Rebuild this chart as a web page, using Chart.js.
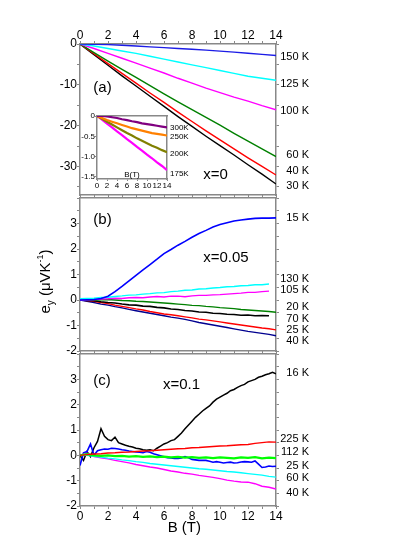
<!DOCTYPE html>
<html>
<head>
<meta charset="utf-8">
<script src="https://cdn.jsdelivr.net/npm/chart.js@4.4.0/dist/chart.umd.min.js"></script>
<style>
  body { margin: 0; background: #fff; }
  #wrap { position: relative; width: 415px; height: 537px; }
  #wrap canvas { position: absolute; left: 0; top: 0; }
</style>
</head>
<body>
<div id="wrap">
  <canvas id="chartA" width="415" height="537"></canvas>
  <canvas id="chartInset" width="415" height="537"></canvas>
  <canvas id="chartB" width="415" height="537"></canvas>
  <canvas id="chartC" width="415" height="537"></canvas>
</div>
<script>
const FONT = "'Liberation Sans', Arial, Helvetica, sans-serif";
const GRAY = "#888888";

// field grids (T)
const bStep1 = [0, 1, 2, 3, 4, 5, 6, 7, 8, 9, 10, 11, 12, 13, 14];
const bHalf = [0, 0.5, 1, 1.5, 2, 2.5, 3, 3.5, 4, 4.5, 5, 5.5, 6, 6.5, 7, 7.5, 8, 8.5, 9, 9.5, 10, 10.5, 11, 11.5, 12, 12.5, 13, 13.5, 14];
const bQuarter = [0, 0.25, 0.5, 0.75, 1, 1.25, 1.5, 1.75, 2, 2.25, 2.5, 2.75, 3, 3.25, 3.5, 3.75, 4, 4.25, 4.5, 4.75,
  5, 5.25, 5.5, 5.75, 6, 6.25, 6.5, 6.75, 7, 7.25, 7.5, 7.75, 8, 8.25, 8.5, 8.75, 9, 9.25, 9.5, 9.75,
  10, 10.25, 10.5, 10.75, 11, 11.25, 11.5, 11.75, 12, 12.25, 12.5, 12.75, 13, 13.25, 13.5, 13.75, 14];

// axis ticks
const xTicks = [0, 1, 2, 3, 4, 5, 6, 7, 8, 9, 10, 11, 12, 13, 14];
const xTickLabels = [0, 2, 4, 6, 8, 10, 12, 14];
const yTicksA = [-35, -30, -25, -20, -15, -10, -5, 0];
const yTickLabelsA = [-30, -20, -10, 0];
const yTicksBC = [-2, -1.5, -1, -0.5, 0, 0.5, 1, 1.5, 2, 2.5, 3, 3.5, 4];
const yTickLabelsBC = [-2, -1, 0, 1, 2, 3];
const xTicksInset = [0, 2, 4, 6, 8, 10, 12, 14];
const yTicksInset = [-1.5, -1, -0.5, 0];
const yTickTextInset = ["-1.5", "-1.0", "-0.5", "0"];

// panel (a) x = 0
const aNames = ["150 K", "125 K", "100 K", "60 K", "40 K", "30 K"];
const aColors = ["#1c1ce6", "#00ffff", "#ff00ff", "#008000", "#ff0000", "#000000"];
const a150 = [0, -0.05, -0.15, -0.3, -0.5, -0.7, -0.9, -1.1, -1.3, -1.5, -1.75, -2.0, -2.25, -2.55, -2.8];
const a125 = [0, -0.5, -1.1, -1.7, -2.3, -3.0, -3.7, -4.4, -5.1, -5.8, -6.5, -7.2, -7.9, -8.4, -8.9];
const a100 = [0, -1.1, -2.3, -3.5, -4.7, -5.9, -7.1, -8.4, -9.6, -10.8, -11.9, -13.0, -14.0, -15.1, -16.1];
const a60 = [0, -2.1, -4.2, -6.2, -8.2, -10.2, -12.2, -14.2, -16.1, -18.0, -19.9, -21.9, -23.8, -25.7, -27.6];
const a40 = [0, -2.4, -4.8, -7.2, -9.6, -12.0, -14.3, -16.7, -19.0, -21.3, -23.5, -25.7, -27.9, -30.0, -32.1];
const a30 = [0, -2.6, -5.2, -7.8, -10.3, -12.8, -15.3, -17.8, -20.2, -22.6, -24.9, -27.2, -29.6, -31.9, -34.3];

// inset of (a)
const iNames = ["300K", "250K", "200K", "175K"];
const iColors = ["#800080", "#ff8000", "#808000", "#ff00ff"];
const i300 = [0, 0, -0.01, -0.03, -0.05, -0.08, -0.1, -0.13, -0.15, -0.18, -0.2, -0.22, -0.24, -0.26, -0.28];
const i250 = [0, -0.05, -0.1, -0.14, -0.18, -0.22, -0.26, -0.3, -0.33, -0.36, -0.39, -0.42, -0.44, -0.46, -0.48];
const i200 = [0, -0.07, -0.14, -0.21, -0.28, -0.35, -0.42, -0.48, -0.55, -0.61, -0.67, -0.73, -0.78, -0.84, -0.89];
const i175 = [0, -0.09, -0.19, -0.28, -0.38, -0.47, -0.57, -0.66, -0.76, -0.85, -0.95, -1.04, -1.14, -1.23, -1.33];

// panel (b) x = 0.05
const bNames = ["15 K", "130 K", "105 K", "20 K", "70 K", "25 K", "40 K"];
const bColors = ["#0000ff", "#00ffff", "#ff00ff", "#008000", "#000000", "#ff0000", "#000090"];
const b15 = [0, 0.01, 0.02, 0.06, 0.15, 0.33, 0.53, 0.75, 0.97, 1.18, 1.39, 1.6, 1.82, 1.98, 2.15, 2.3, 2.46, 2.61, 2.73, 2.86, 2.96, 3.03, 3.1, 3.14, 3.17, 3.2, 3.21, 3.21, 3.22];
const b130 = [0.05, 0.06, 0.07, 0.1, 0.11, 0.14, 0.16, 0.19, 0.2, 0.23, 0.25, 0.28, 0.29, 0.33, 0.35, 0.38, 0.39, 0.43, 0.44, 0.47, 0.49, 0.52, 0.53, 0.56, 0.57, 0.6, 0.6, 0.63];
const b105 = [0, 0.01, 0.02, 0.04, 0.05, 0.07, 0.06, 0.09, 0.1, 0.09, 0.12, 0.14, 0.12, 0.15, 0.15, 0.13, 0.16, 0.18, 0.18, 0.2, 0.21, 0.23, 0.25, 0.27, 0.3, 0.3, 0.33, 0.35];
const b20 = [0, 0.01, 0, 0.01, 0.02, 0, -0.02, -0.03, -0.05, -0.06, -0.08, -0.1, -0.12, -0.14, -0.16, -0.18, -0.21, -0.22, -0.25, -0.27, -0.3, -0.32, -0.34, -0.37, -0.39, -0.41, -0.43, -0.45, -0.48];
const b70 = [0, -0.02, -0.03, -0.07, -0.1, -0.12, -0.16, -0.19, -0.2, -0.24, -0.25, -0.29, -0.31, -0.35, -0.37, -0.41, -0.43, -0.47, -0.48, -0.52, -0.53, -0.56, -0.57, -0.6, -0.59, -0.62, -0.61, -0.62];
const b25 = [0, -0.02, -0.05, -0.1, -0.14, -0.2, -0.25, -0.3, -0.35, -0.39, -0.45, -0.5, -0.55, -0.58, -0.62, -0.66, -0.7, -0.75, -0.78, -0.82, -0.86, -0.9, -0.94, -0.98, -1.02, -1.06, -1.1, -1.13, -1.17];
const b40 = [0, -0.05, -0.1, -0.16, -0.2, -0.26, -0.31, -0.37, -0.42, -0.47, -0.52, -0.57, -0.62, -0.67, -0.71, -0.76, -0.82, -0.88, -0.93, -0.98, -1.03, -1.08, -1.13, -1.18, -1.23, -1.27, -1.31, -1.35, -1.4];

// panel (c) x = 0.1
const cNames = ["16 K", "225 K", "112 K", "25 K", "60 K", "40 K"];
const cColors = ["#000000", "#ff0000", "#00ff00", "#0000ff", "#00ffff", "#ff00ff"];
const c16 = [0, -0.2, 0.15, -0.05, 0.3, 0.55, 1.05, 0.75, 0.62, 0.58,
  0.72, 0.5, 0.45, 0.4, 0.36, 0.33, 0.28, 0.26, 0.22, 0.2,
  0.22, 0.18, 0.28, 0.36, 0.45, 0.5, 0.58, 0.62, 0.75, 0.88,
  1.05, 1.2, 1.35, 1.5, 1.62, 1.75, 1.85, 1.95, 2.1, 2.22,
  2.3, 2.38, 2.45, 2.55, 2.6, 2.68, 2.75, 2.8, 2.9, 2.95,
  3.0, 3.08, 3.12, 3.18, 3.22, 3.28, 3.22];
const c225 = [0, 0.03, 0.05, 0.06, 0.09, 0.1, 0.12, 0.13, 0.15, 0.17, 0.18, 0.2, 0.22, 0.24, 0.26, 0.27, 0.3, 0.31, 0.33, 0.35, 0.37, 0.38, 0.4, 0.42, 0.43, 0.47, 0.5, 0.53, 0.52];
const c112 = [0, 0.05, 0, -0.02, 0, -0.03, -0.02, -0.05, -0.03, -0.06, -0.04, -0.07, -0.05, -0.08, -0.06, -0.09, -0.07, -0.1, -0.08, -0.11, -0.08, -0.1, -0.12, -0.08, -0.1, -0.07, -0.12, -0.09, -0.11];
const c25 = [-0.4, 0.1, 0.15, 0.45, 0, 0.18, 0.22, 0.25, 0.24, 0.28,
  0.27, 0.25, 0.22, 0.2, 0.17, 0.15, 0.13, 0.12, 0.1, 0.15,
  0.12, 0.06, 0.02, -0.02, -0.06, -0.09, -0.1, -0.12, -0.12, -0.1,
  -0.05, -0.1, -0.16, -0.18, -0.2, -0.2, -0.2, -0.23, -0.27, -0.25,
  -0.27, -0.3, -0.28, -0.27, -0.3, -0.29, -0.26, -0.25, -0.26, -0.27,
  -0.22, -0.35, -0.48, -0.46, -0.42, -0.44, -0.43];
const c60 = [0, 0, -0.04, -0.07, -0.11, -0.14, -0.18, -0.21, -0.25, -0.28, -0.32, -0.35, -0.38, -0.41, -0.44, -0.47, -0.5, -0.53, -0.55, -0.58, -0.61, -0.64, -0.66, -0.69, -0.72, -0.75, -0.78, -0.83, -0.86];
const c40 = [0, 0.08, -0.05, -0.1, -0.14, -0.2, -0.25, -0.3, -0.36, -0.41, -0.46, -0.5, -0.56, -0.62, -0.66, -0.71, -0.74, -0.79, -0.83, -0.87, -0.92, -0.98, -1.02, -1.05, -1.06, -1.12, -1.22, -1.26, -1.33];

function pts(xs, ys) {
  return ys.map((y, i) => ({ x: xs[i], y: y }));
}

function line(name, color, xs, ys, w) {
  return { label: name, data: pts(xs, ys), borderColor: color, borderWidth: w || 1.4,
    pointRadius: 0, fill: false, tension: 0 };
}

// one axis of a framed panel; size is fixed so plot boxes line up across canvases
function axis(pos, cfg) {
  const horiz = pos === "top" || pos === "bottom";
  const a = {
    type: "linear", position: pos, min: cfg.min, max: cfg.max,
    afterBuildTicks: s => { s.ticks = cfg.ticks.map(v => ({ value: v })); },
    afterFit: s => { if (horiz) s.height = cfg.size; else s.width = cfg.size; },
    ticks: {
      display: !!cfg.labels, autoSkip: false, maxRotation: 0, padding: cfg.pad || 0, color: "#000",
      font: { family: FONT, size: cfg.font || 12 },
      callback: (v) => {
        if (!cfg.labels) return "";
        const k = cfg.labels.indexOf(v);
        if (k < 0) return "";
        return cfg.text ? cfg.text[k] : String(v);
      }
    },
    grid: { drawOnChartArea: false, drawTicks: cfg.tick !== 0, tickLength: cfg.tick === undefined ? 3 : cfg.tick,
      color: GRAY, lineWidth: 1 },
    border: { color: GRAY, width: 1.5 }
  };
  return a;
}

function layoutFor(area, wL, wR, hT, hB) {
  return { padding: { left: area.l - wL, right: 415 - area.r - wR, top: area.t - hT, bottom: 537 - area.b - hB } };
}

// text drawn in data coordinates (or offset from the right edge of the plot)
const textLayer = {
  id: "textLayer",
  afterDatasetsDraw(chart, args, opts) {
    const ctx = chart.ctx, xs = chart.scales.x, ys = chart.scales.y, ca = chart.chartArea;
    ctx.save();
    ctx.fillStyle = "#000";
    ctx.textBaseline = "middle";
    (opts.items || []).forEach(it => {
      ctx.font = it.size + "px " + FONT;
      ctx.textAlign = it.align || "left";
      const px = it.dx !== undefined ? ca.right + it.dx : xs.getPixelForValue(it.x);
      ctx.fillText(it.text, px, ys.getPixelForValue(it.y));
    });
    ctx.restore();
  }
};

// rotated y title with subscript / superscript
const yTitle = {
  id: "yTitle",
  afterDraw(chart) {
    const ctx = chart.ctx, ca = chart.chartArea;
    const parts = [
      { t: "e", s: 15, dy: 0 }, { t: "y", s: 10, dy: 4 }, { t: " (\u03bcVK", s: 15, dy: 0 },
      { t: "-1", s: 9, dy: -7 }, { t: ")", s: 15, dy: 0 }
    ];
    ctx.save();
    ctx.translate(ca.left - 35, (ca.top + ca.bottom) / 2 + 7);
    ctx.rotate(-Math.PI / 2);
    ctx.fillStyle = "#000";
    ctx.textBaseline = "alphabetic";
    let total = 0;
    parts.forEach(p => { ctx.font = p.s + "px " + FONT; p.w = ctx.measureText(p.t).width; total += p.w; });
    let x = -total / 2;
    parts.forEach(p => { ctx.font = p.s + "px " + FONT; ctx.fillText(p.t, x, 5 + p.dy); x += p.w; });
    ctx.restore();
  }
};

const common = {
  responsive: false, animation: false, events: [],
  plugins: { legend: { display: false }, tooltip: { enabled: false } }
};

// ---------- panel (a) ----------
const areaA = { l: 80, t: 44, r: 276, b: 195 };
new Chart(document.getElementById("chartA"), {
  type: "line",
  data: { datasets: [
    line(aNames[0], aColors[0], bStep1, a150), line(aNames[1], aColors[1], bStep1, a125),
    line(aNames[2], aColors[2], bStep1, a100), line(aNames[3], aColors[3], bStep1, a60),
    line(aNames[4], aColors[4], bStep1, a40), line(aNames[5], aColors[5], bStep1, a30)
  ] },
  options: Object.assign({}, common, {
    layout: layoutFor(areaA, 40, 4, 24, 4),
    scales: {
      x: axis("top", { min: 0, max: 14, ticks: xTicks, labels: xTickLabels, size: 24, pad: -2 }),
      x2: axis("bottom", { min: 0, max: 14, ticks: xTicks, size: 4 }),
      y: axis("left", { min: -37, max: 0, ticks: yTicksA, labels: yTickLabelsA, size: 40 }),
      y2: axis("right", { min: -37, max: 0, ticks: yTicksA, size: 4 })
    },
    plugins: Object.assign({}, common.plugins, { textLayer: { items: [
      { text: "(a)", x: 0.95, y: -10.7, size: 15 },
      { text: "x=0", x: 8.8, y: -32.1, size: 15 },
      { text: aNames[0], dx: 33, y: -3.2, size: 11, align: "right" },
      { text: aNames[1], dx: 33, y: -9.7, size: 11, align: "right" },
      { text: aNames[2], dx: 33, y: -16.3, size: 11, align: "right" },
      { text: aNames[3], dx: 33, y: -27.2, size: 11, align: "right" },
      { text: aNames[4], dx: 33, y: -31.2, size: 11, align: "right" },
      { text: aNames[5], dx: 33, y: -34.8, size: 11, align: "right" }
    ] } })
  }),
  plugins: [textLayer]
});

// ---------- inset ----------
const areaI = { l: 97, t: 116, r: 167, b: 179 };
new Chart(document.getElementById("chartInset"), {
  type: "line",
  data: { datasets: [
    line(iNames[0], iColors[0], bStep1, i300, 2.2), line(iNames[1], iColors[1], bStep1, i250, 2.2),
    line(iNames[2], iColors[2], bStep1, i200, 2.2), line(iNames[3], iColors[3], bStep1, i175, 2.2)
  ] },
  options: Object.assign({}, common, {
    layout: layoutFor(areaI, 20, 0, 0, 12),
    scales: {
      x: axis("bottom", { min: 0, max: 14, ticks: xTicksInset, labels: xTicksInset, size: 12, font: 8, tick: 2 }),
      x2: axis("top", { min: 0, max: 14, ticks: [], size: 0, tick: 0 }),
      y: axis("left", { min: -1.55, max: 0, ticks: yTicksInset, labels: yTicksInset, text: yTickTextInset, size: 20, font: 8, tick: 2 }),
      y2: axis("right", { min: -1.55, max: 0, ticks: [], size: 0, tick: 0 })
    },
    plugins: Object.assign({}, common.plugins, { textLayer: { items: [
      { text: "B(T)", x: 7, y: -1.44, size: 8, align: "center" },
      { text: iNames[0], dx: 3, y: -0.28, size: 8 },
      { text: iNames[1], dx: 3, y: -0.5, size: 8 },
      { text: iNames[2], dx: 3, y: -0.93, size: 8 },
      { text: iNames[3], dx: 3, y: -1.43, size: 8 }
    ] } })
  }),
  plugins: [textLayer]
});

// ---------- panel (b) ----------
const areaB = { l: 80, t: 198, r: 276, b: 351 };
new Chart(document.getElementById("chartB"), {
  type: "line",
  data: { datasets: [
    line(bNames[0], bColors[0], bHalf, b15, 1.6), line(bNames[1], bColors[1], bHalf, b130),
    line(bNames[2], bColors[2], bHalf, b105), line(bNames[3], bColors[3], bHalf, b20),
    line(bNames[4], bColors[4], bHalf, b70, 1.6), line(bNames[5], bColors[5], bHalf, b25),
    line(bNames[6], bColors[6], bHalf, b40)
  ] },
  options: Object.assign({}, common, {
    layout: layoutFor(areaB, 40, 4, 4, 4),
    scales: {
      x: axis("bottom", { min: 0, max: 14, ticks: xTicks, size: 4 }),
      x2: axis("top", { min: 0, max: 14, ticks: xTicks, size: 4 }),
      y: axis("left", { min: -2, max: 4, ticks: yTicksBC, labels: yTickLabelsBC, size: 40 }),
      y2: axis("right", { min: -2, max: 4, ticks: yTicksBC, size: 4 })
    },
    plugins: Object.assign({}, common.plugins, { textLayer: { items: [
      { text: "(b)", x: 0.95, y: 3.15, size: 15 },
      { text: "x=0.05", x: 8.8, y: 1.65, size: 15 },
      { text: bNames[0], dx: 33, y: 3.2, size: 11, align: "right" },
      { text: bNames[1], dx: 33, y: 0.82, size: 11, align: "right" },
      { text: bNames[2], dx: 33, y: 0.4, size: 11, align: "right" },
      { text: bNames[3], dx: 33, y: -0.29, size: 11, align: "right" },
      { text: bNames[4], dx: 33, y: -0.73, size: 11, align: "right" },
      { text: bNames[5], dx: 33, y: -1.19, size: 11, align: "right" },
      { text: bNames[6], dx: 33, y: -1.61, size: 11, align: "right" }
    ] } })
  }),
  plugins: [textLayer, yTitle]
});

// ---------- panel (c) ----------
const areaC = { l: 80, t: 354, r: 276, b: 506 };
new Chart(document.getElementById("chartC"), {
  type: "line",
  data: { datasets: [
    line(cNames[1], cColors[1], bHalf, c225), line(cNames[2], cColors[2], bHalf, c112, 2.2),
    line(cNames[4], cColors[4], bHalf, c60), line(cNames[5], cColors[5], bHalf, c40),
    line(cNames[3], cColors[3], bQuarter, c25, 1.6), line(cNames[0], cColors[0], bQuarter, c16, 1.5)
  ] },
  options: Object.assign({}, common, {
    layout: layoutFor(areaC, 40, 4, 4, 24),
    scales: {
      x: axis("bottom", { min: 0, max: 14, ticks: xTicks, labels: xTickLabels, size: 24 }),
      x2: axis("top", { min: 0, max: 14, ticks: xTicks, size: 4 }),
      y: axis("left", { min: -2, max: 4, ticks: yTicksBC, labels: yTickLabelsBC, size: 40 }),
      y2: axis("right", { min: -2, max: 4, ticks: yTicksBC, size: 4 })
    },
    plugins: Object.assign({}, common.plugins, { textLayer: { items: [
      { text: "(c)", x: 0.95, y: 2.94, size: 15 },
      { text: "x=0.1", x: 5.93, y: 2.8, size: 15 },
      { text: "B (T)", x: 7.45, y: -2.87, size: 15, align: "center" },
      { text: cNames[0], dx: 33, y: 3.26, size: 11, align: "right" },
      { text: cNames[1], dx: 33, y: 0.64, size: 11, align: "right" },
      { text: cNames[2], dx: 33, y: 0.13, size: 11, align: "right" },
      { text: cNames[3], dx: 33, y: -0.42, size: 11, align: "right" },
      { text: cNames[4], dx: 33, y: -0.91, size: 11, align: "right" },
      { text: cNames[5], dx: 33, y: -1.5, size: 11, align: "right" }
    ] } })
  }),
  plugins: [textLayer]
});
</script>
</body>
</html>
